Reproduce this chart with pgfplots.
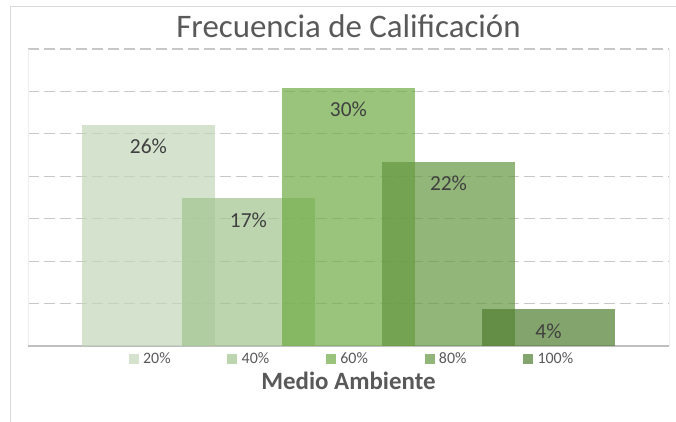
\documentclass[border=0pt]{standalone}
\usepackage{fontspec}
\setmainfont{Carlito}
\usepackage{pgfplots}
\pgfplotsset{compat=1.18}
\definecolor{cA}{HTML}{C3D7BA}
\definecolor{cB}{HTML}{A2C48E}
\definecolor{cC}{HTML}{70AB44}
\definecolor{cD}{HTML}{659741}
\definecolor{cE}{HTML}{517E30}
\definecolor{txt}{HTML}{595959}
\definecolor{lbl}{HTML}{404040}
\definecolor{gridc}{HTML}{C8C8C8}
\definecolor{basec}{HTML}{BFBFBF}
\definecolor{framec}{HTML}{D9D9D9}
\definecolor{areac}{HTML}{EEEEEE}
\begin{document}
\begin{tikzpicture}[x=1bp,y=1bp]
\path[use as bounding box, fill=white] (0,0) rectangle (676,421);
\draw[framec, line width=1bp] (10,-5) -- (10,414.5) -- (690,414.5);
\begin{axis}[
  at={(28bp,75bp)}, anchor=south west,
  scale only axis, width=641bp, height=297bp,
  xmin=0, xmax=641, ymin=0, ymax=35,
  separate axis lines,
  x axis line style={draw=none},
  y axis line style={draw=areac, line width=0.8bp},
  xtick=\empty, ytick={5,10,...,35}, yticklabels={}, major tick length=0pt,
  ymajorgrids,
  major grid style={gridc, line width=1.2bp, dash pattern=on 11bp off 5bp},
  extra y ticks={0}, extra y tick labels={},
  extra y tick style={major grid style={basec, solid, line width=1.5bp}},
  ybar, bar width=133, bar shift=0pt,
  every axis plot/.append style={draw=none, fill opacity=0.7},
  every axis plot post/.append style={legend image code/.code={\fill[##1] (0bp,-5bp) rectangle (10bp,5bp);}},
  nodes near coords, point meta=explicit symbolic,
  every node near coord/.append style={anchor=north, yshift=-11bp,
     font=\fontsize{21.5}{25}\selectfont, color=lbl, text opacity=1},
  title={Frecuencia de Calificación},
  title style={at={(axis description cs:0.5,1.055)}, anchor=center,
     font=\fontsize{33}{40}\selectfont, color=txt},
  xlabel={Medio Ambiente},
  xlabel style={at={(axis description cs:0.5,-0.116)}, anchor=center,
     font=\bfseries\fontsize{25}{30}\selectfont, color=txt},
  legend columns=5,
  legend style={draw=none, fill=none, at={(axis description cs:0.157,-0.0438)}, anchor=west,
     font=\fontsize{16}{19}\selectfont, text=txt, inner sep=0pt, nodes={inner sep=0pt},
     /tikz/column sep=4.3bp,
     /tikz/every even column/.append style={column sep=44.3bp}},
]
\addplot[fill=cA] coordinates {(120.5,26.09) [26\%]};
\addlegendentry{\makebox[40bp][l]{20\%}}
\addplot[fill=cB] coordinates {(220.5,17.39) [17\%]};
\addlegendentry{\makebox[40bp][l]{40\%}}
\addplot[fill=cC] coordinates {(320.5,30.43) [30\%]};
\addlegendentry{\makebox[40bp][l]{60\%}}
\addplot[fill=cD] coordinates {(420.5,21.74) [22\%]};
\addlegendentry{\makebox[40bp][l]{80\%}}
\addplot[fill=cE] coordinates {(520.5,4.35) [4\%]};
\addlegendentry{\makebox[40bp][l]{100\%}}
\end{axis}
\end{tikzpicture}
\end{document}
